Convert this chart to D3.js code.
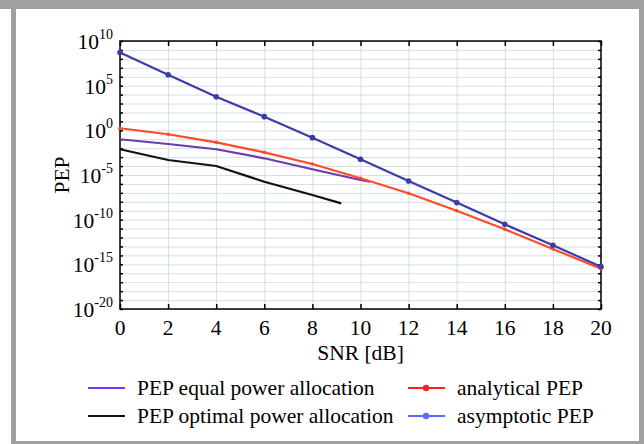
<!DOCTYPE html>
<html>
<head>
<meta charset="utf-8">
<script src="https://cdn.jsdelivr.net/npm/d3@7"></script>
<style>
  body { margin: 0; background: #fff; }
  text { font-family: "Liberation Serif", "Times New Roman", serif; }
</style>
</head>
<body>
<script>
// SNR values (dB)
var snrFull = [0, 2, 4, 6, 8, 10, 12, 14, 16, 18, 20];
var snrEqual = [0, 2, 4, 6, 8, 10, 10.4];
var snrOpt = [0, 2, 4, 6, 8, 9.2];

// log10(PEP)
var asymptoticPEP = [8.7, 6.23, 3.76, 1.53, -0.82, -3.24, -5.67, -8.09, -10.52, -12.87, -15.26];
var analyticalPEP = [0.23, -0.44, -1.34, -2.46, -3.77, -5.37, -7.05, -9.0, -11.08, -13.28, -15.49];
var equalPEP = [-1.0, -1.53, -2.12, -3.13, -4.36, -5.56, -5.75];
var optimalPEP = [-2.12, -3.32, -3.99, -5.75, -7.24, -8.17];

var xTicks = [0, 2, 4, 6, 8, 10, 12, 14, 16, 18, 20];
var yTickExp = [10, 5, 0, -5, -10, -15, -20];

// Width and height
var w = 644;
var h = 444;
var margin = {left: 120, right: 43, top: 41, bottom: 135};

var svg = d3.select("body")
      .append("svg")
      .attr("width", w)
      .attr("height", h);

// gray picture border
svg.append("rect").attr("x", 0).attr("y", 0).attr("width", w).attr("height", 9).attr("fill", "#a0a0a0");
svg.append("rect").attr("x", 11).attr("y", 0).attr("width", 5).attr("height", h).attr("fill", "#a0a0a0");
svg.append("rect").attr("x", 639).attr("y", 0).attr("width", 5).attr("height", h).attr("fill", "#a0a0a0");
svg.append("rect").attr("x", 11).attr("y", 441).attr("width", 633).attr("height", 3).attr("fill", "#a0a0a0");

var x = d3.scaleLinear()
      .domain([0, 20])
      .range([margin.left, w - margin.right]);

var y = d3.scaleLinear()
      .domain([-20, 10])
      .range([h - margin.bottom, margin.top]);

var plotW = w - margin.right - margin.left;
var plotH = h - margin.bottom - margin.top;

// grid lines, one per decade and one per 2 dB
var decades = d3.range(-20, 11);
svg.append("g")
   .attr("transform", "translate(" + margin.left + ",0)")
   .call(d3.axisLeft(y).tickValues(decades).tickSize(-plotW).tickFormat(""))
   .call(function(g) {
     g.select(".domain").remove();
     g.selectAll("line").attr("stroke", "#d6dde3").attr("stroke-width", 1);
   });
svg.append("g")
   .attr("transform", "translate(0," + (h - margin.bottom) + ")")
   .call(d3.axisBottom(x).tickValues(xTicks).tickSize(-plotH).tickFormat(""))
   .call(function(g) {
     g.select(".domain").remove();
     g.selectAll("line").attr("stroke", "#d6dde3").attr("stroke-width", 1);
   });

// inward ticks on all four sides
function tickStyle(g) {
  g.select(".domain").remove();
  g.selectAll("line").attr("stroke", "#000").attr("stroke-width", 1.5);
}
svg.append("g")
   .attr("transform", "translate(0," + (h - margin.bottom) + ")")
   .call(d3.axisTop(x).tickValues(xTicks).tickSize(5).tickFormat("")).call(tickStyle);
svg.append("g")
   .attr("transform", "translate(0," + margin.top + ")")
   .call(d3.axisBottom(x).tickValues(xTicks).tickSize(5).tickFormat("")).call(tickStyle);
svg.append("g")
   .attr("transform", "translate(" + margin.left + ",0)")
   .call(d3.axisRight(y).tickValues(decades).tickSize(3).tickFormat("")).call(tickStyle);
svg.append("g")
   .attr("transform", "translate(" + (w - margin.right) + ",0)")
   .call(d3.axisLeft(y).tickValues(decades).tickSize(3).tickFormat("")).call(tickStyle);

// frame
svg.append("rect")
   .attr("x", margin.left).attr("y", margin.top)
   .attr("width", plotW).attr("height", plotH)
   .attr("fill", "none").attr("stroke", "#000").attr("stroke-width", 1.5);

// x tick labels
svg.selectAll(".xlab")
   .data(xTicks)
   .enter()
   .append("text")
   .attr("x", function(d) { return x(d); })
   .attr("y", h - margin.bottom + 26)
   .attr("text-anchor", "middle")
   .attr("font-size", 21.5)
   .text(function(d) { return d; });

// y tick labels 10^n
var ylab = svg.selectAll(".ylab")
   .data(yTickExp)
   .enter()
   .append("text")
   .attr("x", 113)
   .attr("y", function(d) { return y(d) + 8; })
   .attr("text-anchor", "end")
   .attr("font-size", 21.5);
ylab.append("tspan").text("10");
ylab.append("tspan")
    .attr("dy", -10)
    .attr("font-size", 14)
    .text(function(d) { return d; });

// axis titles
svg.append("text")
   .attr("x", x(10))
   .attr("y", 360)
   .attr("text-anchor", "middle")
   .attr("font-size", 21.5)
   .text("SNR [dB]");
svg.append("text")
   .attr("transform", "translate(69," + y(-5) + ") rotate(-90)")
   .attr("text-anchor", "middle")
   .attr("font-size", 21.5)
   .text("PEP");

// series
var series = [
  {name: "PEP equal power allocation", xs: snrEqual, ys: equalPEP, color: "#6a3cb0", legend: "#7a33ff", dots: false},
  {name: "PEP optimal power allocation", xs: snrOpt, ys: optimalPEP, color: "#111", legend: "#111", dots: false},
  {name: "analytical PEP", xs: snrFull, ys: analyticalPEP, color: "#ff4a2a", legend: "#ff2020", dots: true},
  {name: "asymptotic PEP", xs: snrFull, ys: asymptoticPEP, color: "#3c3ca8", legend: "#5a6aff", dots: true}
];

var line = d3.line()
      .x(function(d) { return x(d[0]); })
      .y(function(d) { return y(d[1]); });

series.forEach(function(s) {
  var pts = s.xs.map(function(v, i) { return [v, s.ys[i]]; });
  svg.append("path")
     .attr("d", line(pts))
     .attr("fill", "none")
     .attr("stroke", s.color)
     .attr("stroke-width", 2.2);
  if (s.dots) {
    svg.selectAll(null)
       .data(pts)
       .enter()
       .append("circle")
       .attr("cx", function(d) { return x(d[0]); })
       .attr("cy", function(d) { return y(d[1]); })
       .attr("r", s.name == "asymptotic PEP" ? 2.8 : 1.8)
       .attr("fill", s.color);
  }
});

// legend
var legendPos = [[88, 388], [88, 416], [408, 388], [408, 416]];
series.forEach(function(s, i) {
  var p = legendPos[i];
  svg.append("line")
     .attr("x1", p[0]).attr("x2", p[0] + 37)
     .attr("y1", p[1]).attr("y2", p[1])
     .attr("stroke", s.legend).attr("stroke-width", 2);
  if (s.dots) {
    svg.append("circle").attr("cx", p[0] + 18).attr("cy", p[1]).attr("r", 3.2).attr("fill", s.legend);
  }
  svg.append("text")
     .attr("x", p[0] + 49)
     .attr("y", p[1] + 7)
     .attr("font-size", 21.5)
     .text(s.name);
});
</script>
</body>
</html>
